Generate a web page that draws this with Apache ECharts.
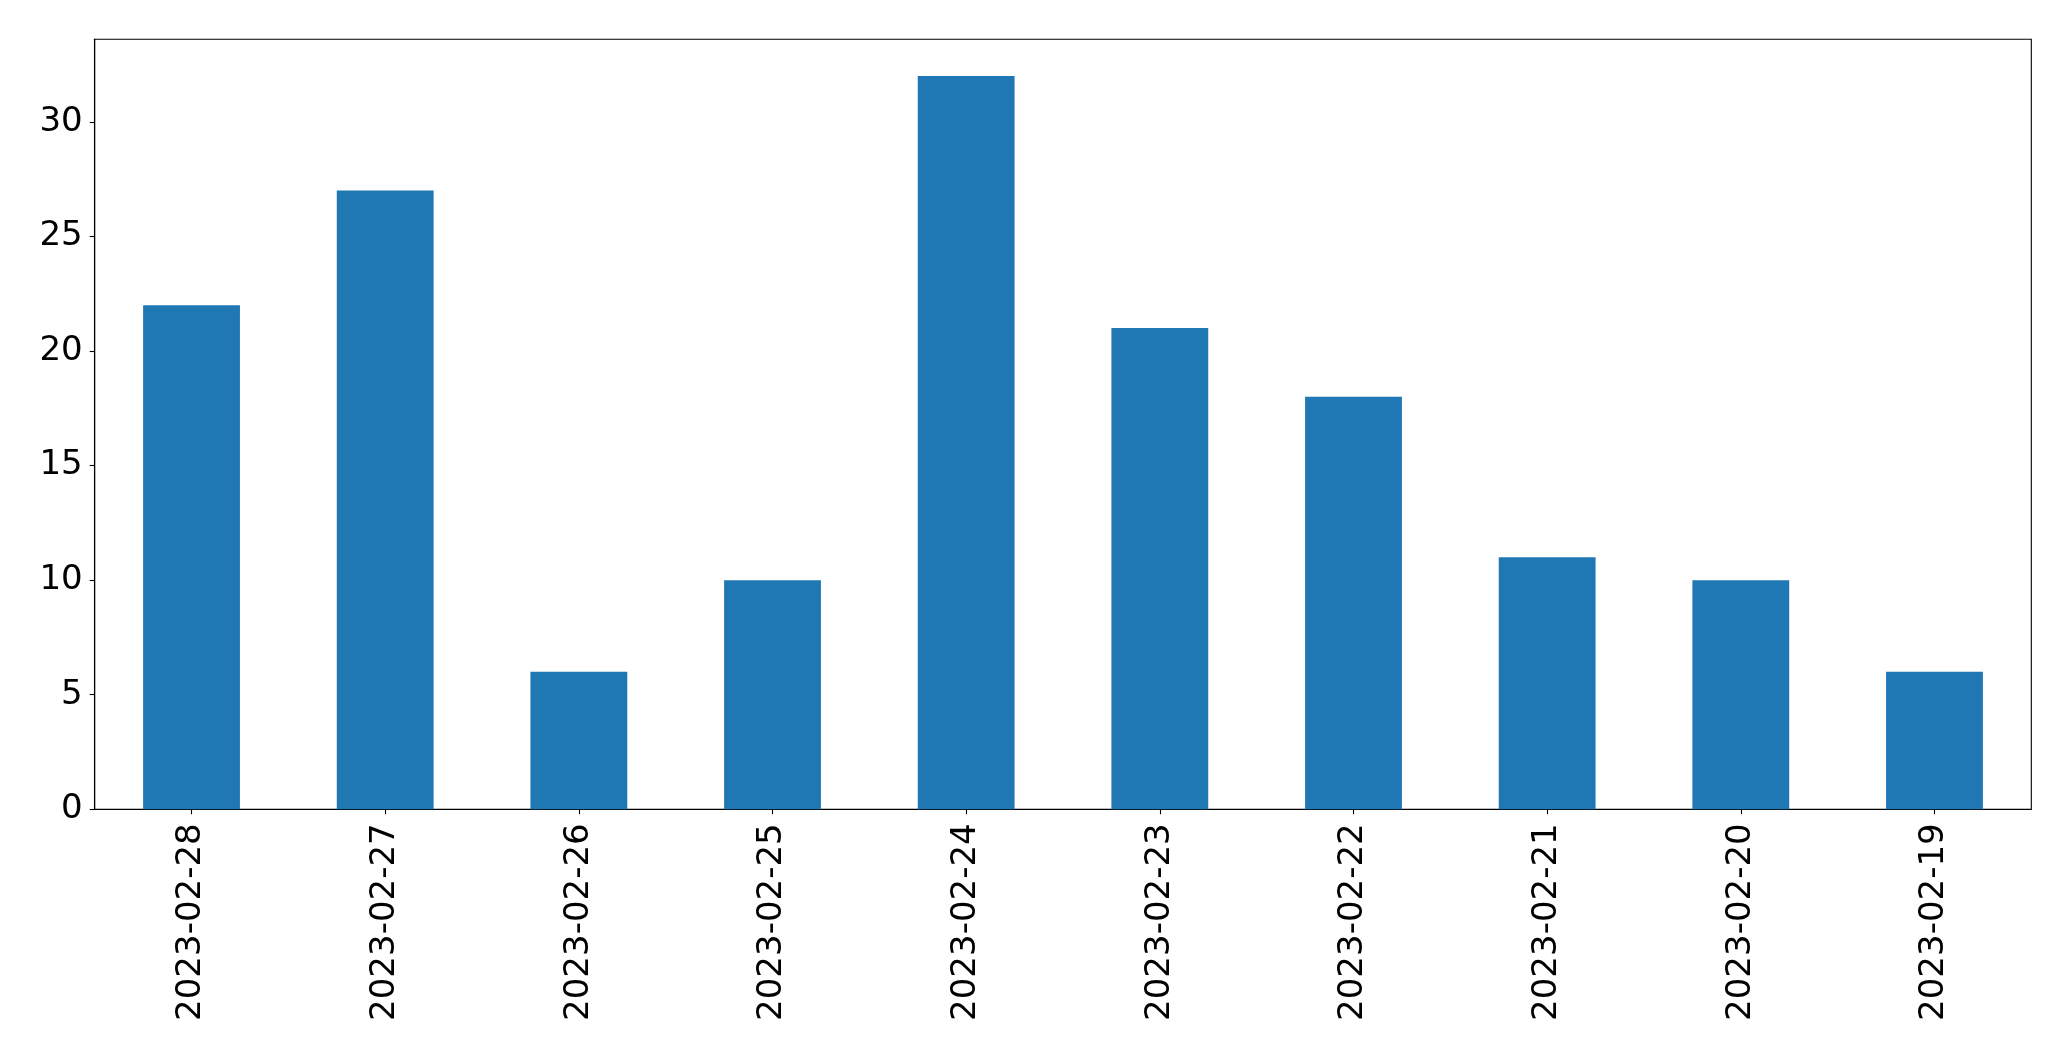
<!DOCTYPE html>
<html>
<head>
<meta charset="utf-8">
<script src="https://cdn.jsdelivr.net/npm/echarts@6/dist/echarts.min.js"></script>
<style>html,body{margin:0;padding:0;background:#fff}#c{width:2071px;height:1061px}</style>
</head>
<body>
<div id="c"></div>
<script>
const categories = ["2023-02-28","2023-02-27","2023-02-26","2023-02-25","2023-02-24","2023-02-23","2023-02-22","2023-02-21","2023-02-20","2023-02-19"];
const values = [22, 27, 6, 10, 32, 21, 18, 11, 10, 6];
const yTicks = [0, 5, 10, 15, 20, 25, 30];

const chart = echarts.init(document.getElementById('c'), null, {renderer: 'canvas'});
const font = {fontFamily: 'DejaVu Sans', fontSize: 34, color: '#000'};
chart.setOption({
  animation: false,
  backgroundColor: '#fff',
  grid: {left: 94.7, right: 39.7, top: 39.3, bottom: 251.7, outerBoundsMode: 'none', containLabel: false,
    show: true, borderColor: '#000', borderWidth: 1.1, backgroundColor: 'transparent'},
  xAxis: {
    type: 'category', data: categories, boundaryGap: true,
    axisLine: {show: true, lineStyle: {color: '#000', width: 1.1}},
    axisTick: {show: true, alignWithLabel: true, length: 5, lineStyle: {color: '#000', width: 1.1}},
    axisLabel: Object.assign({rotate: 90, margin: 14, interval: 0}, font),
    splitLine: {show: false}
  },
  yAxis: {
    type: 'value', min: 0, max: 33.6, interval: 5,
    axisLine: {show: true, lineStyle: {color: '#000', width: 1.1}},
    axisTick: {show: true, length: 5, customValues: yTicks, lineStyle: {color: '#000', width: 1.1}},
    axisLabel: Object.assign({margin: 12, customValues: yTicks}, font),
    splitLine: {show: false}
  },
  series: [{
    type: 'bar', data: values, barWidth: '50%',
    itemStyle: {color: '#1f77b4'}
  }]
});
</script>
</body>
</html>
